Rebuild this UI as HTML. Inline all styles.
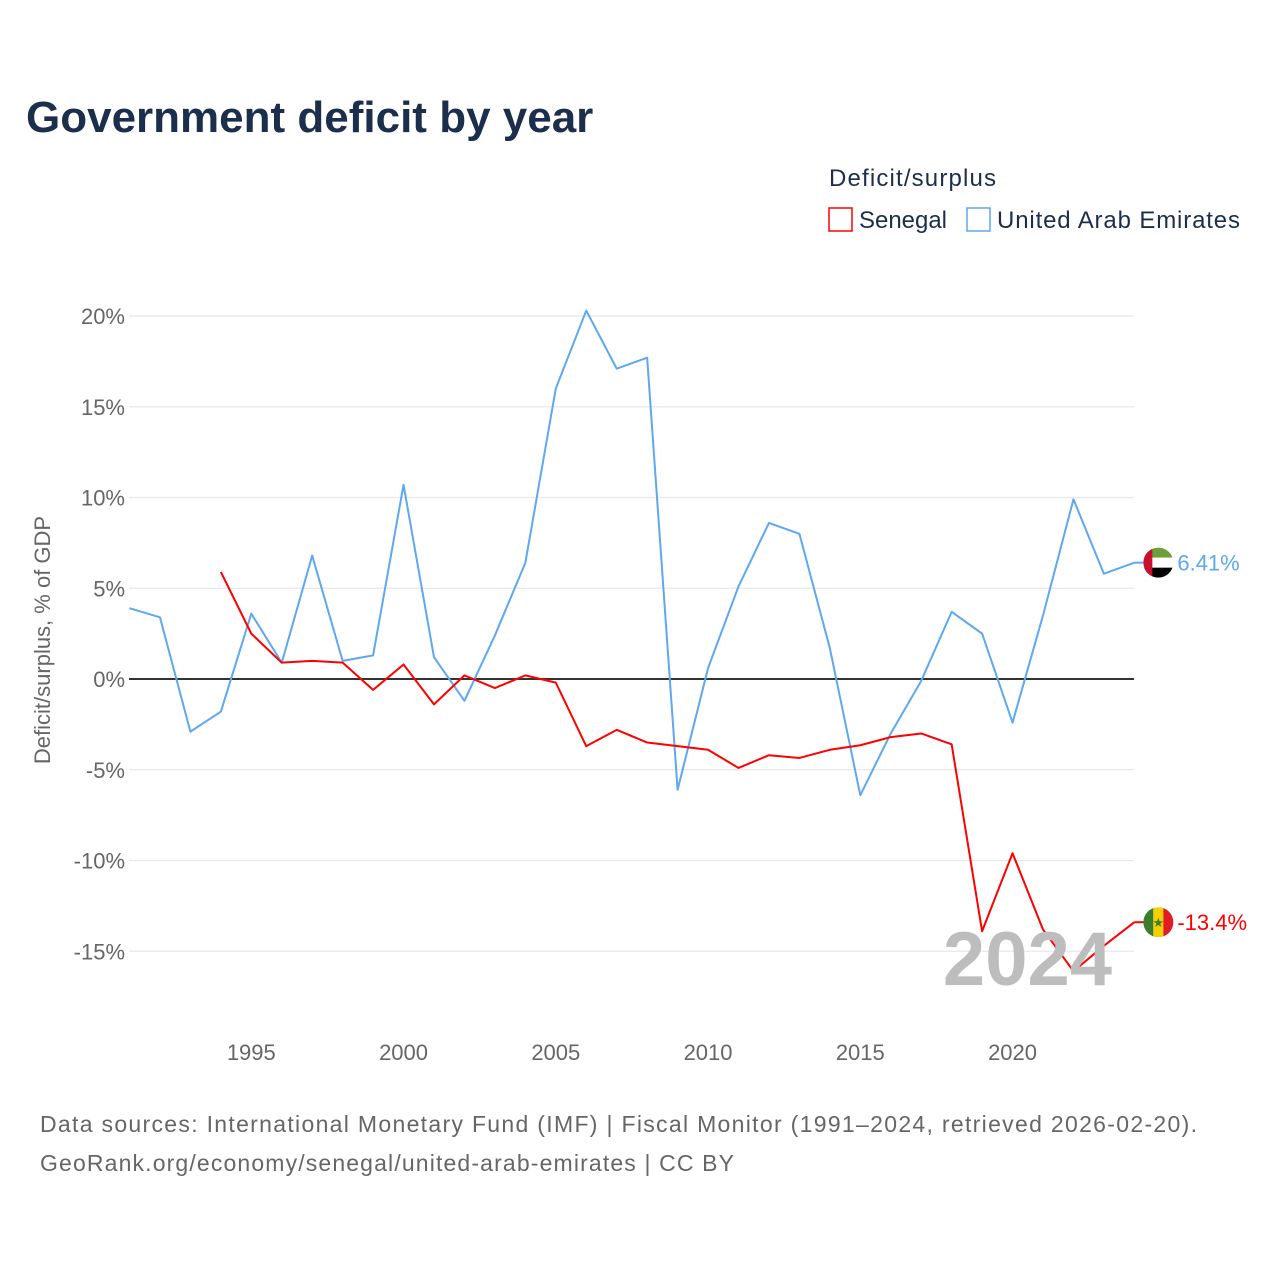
<!DOCTYPE html>
<html><head><meta charset="utf-8">
<style>
body{margin:0;background:#fff;font-family:"Liberation Sans",sans-serif;}
#wrap{position:relative;width:1280px;height:1280px;overflow:hidden;}
</style></head>
<body>
<div id="wrap">
<svg id="chart" width="1280" height="1280">
<text x="26" y="132" font-size="44" font-weight="bold" fill="#1b2e4b">Government deficit by year</text>
<text x="829" y="186" font-size="24" fill="#1b2e4b" textLength="167">Deficit/surplus</text>
<g><rect x="829" y="208" width="23" height="23" fill="none" stroke="#ff0000" stroke-width="1.5"/><text x="859" y="228" font-size="24" fill="#1b2e4b" textLength="88">Senegal</text></g>
<g><rect x="967" y="208" width="23" height="23" fill="none" stroke="#5ea8ef" stroke-width="1.5"/><text x="997" y="228" font-size="24" fill="#1b2e4b" textLength="243">United Arab Emirates</text></g>
<text transform="translate(50,640) rotate(-90)" text-anchor="middle" font-size="22" fill="#666">Deficit/surplus, % of GDP</text>
<g id="grid"></g><g id="series"></g>
<text x="1112" y="985" text-anchor="end" font-size="76" font-weight="bold" fill="#bdbdbd">2024</text>
<text x="40" y="1132" font-size="23" fill="#666" textLength="1157">Data sources: International Monetary Fund (IMF) | Fiscal Monitor (1991–2024, retrieved 2026-02-20).</text>
<text x="40" y="1171" font-size="23" fill="#666" textLength="694">GeoRank.org/economy/senegal/united-arab-emirates | CC BY</text>
</svg>
</div>
<script>
const years=[];for(let y=1991;y<=2024;y++)years.push(y);
const uae=[3.9,3.4,-2.9,-1.8,3.6,0.9,6.8,1.0,1.3,10.7,1.2,-1.2,2.4,6.4,16.0,20.3,17.1,17.7,-6.1,0.6,5.1,8.6,8.0,1.7,-6.4,-3.0,-0.1,3.7,2.5,-2.4,3.5,9.9,5.8,6.41];
const senegal=[null,null,null,5.9,2.5,0.9,1.0,0.9,-0.6,0.8,-1.4,0.2,-0.5,0.2,-0.2,-3.7,-2.8,-3.5,-3.7,-3.9,-4.9,-4.2,-4.35,-3.9,-3.65,-3.2,-3.0,-3.6,-13.9,-9.6,-13.8,-16.1,-14.7,-13.4];
const yTicks=[20,15,10,5,0,-5,-10,-15];
const xTicks=[1995,2000,2005,2010,2015,2020];
const NS='http://www.w3.org/2000/svg';
const X=y=>129.5+(y-1991)*30.45;
const Y=v=>679-v*18.15;
function mk(t,a,p){const e=document.createElementNS(NS,t);for(const k in a)e.setAttribute(k,a[k]);p.appendChild(e);return e;}
const g=document.getElementById('grid'),s=document.getElementById('series');
yTicks.forEach(v=>{
 const l=mk('line',{x1:129,x2:1134,y1:Y(v),y2:Y(v),stroke:v===0?'#333':'#e8e8e8','stroke-width':v===0?2:1.2},g);
 
 
 const t=mk('text',{x:125,y:Y(v)+8,'text-anchor':'end','font-size':22,fill:'#666'},g);
 t.textContent=v+'%';
 
 
});
xTicks.forEach(yr=>{
 const t=mk('text',{x:X(yr),y:1060,'text-anchor':'middle','font-size':22,fill:'#666'},g);
 t.textContent=yr;
 
 
});
function line(vals,color,name){
 let d='';vals.forEach((v,i)=>{if(v==null)return;d+=(d?'L':'M')+X(years[i])+','+Y(v);});
 const p=mk('path',{d:d,fill:'none',stroke:color,'stroke-width':2,'stroke-linejoin':'round'},s);
 
 
}
line(uae,'#5ea8ef','uae-line');
line(senegal,'#ff0000','senegal-line');
function endLabel(vals,color,txt,name,flag){
 const v=vals[vals.length-1],x=X(2024),y=Y(v);
 const gg=mk('g',{},s);
 
 
 mk('line',{x1:x,x2:x+10,y1:y,y2:y,stroke:color,'stroke-width':2},gg);
 const cx=x+24;
 const clip=mk('clipPath',{id:'c'+name},gg);
 mk('circle',{cx:cx,cy:y,r:15},clip);
 const fg=mk('g',{'clip-path':'url(#c'+name+')'},gg);
 if(flag==='uae'){
  mk('rect',{x:cx-15,y:y-15,width:30,height:10,fill:'#6a9f3a'},fg);
  mk('rect',{x:cx-15,y:y-5,width:30,height:10,fill:'#fff'},fg);
  mk('rect',{x:cx-15,y:y+5,width:30,height:10,fill:'#000'},fg);
  mk('rect',{x:cx-15,y:y-15,width:9,height:30,fill:'#c8102e'},fg);
 }else{
  mk('rect',{x:cx-15,y:y-15,width:10,height:30,fill:'#3a7d2c'},fg);
  mk('rect',{x:cx-5,y:y-15,width:10,height:30,fill:'#f5d000'},fg);
  mk('rect',{x:cx+5,y:y-15,width:10,height:30,fill:'#e31b23'},fg);
  const st=mk('text',{x:cx,y:y+5,'text-anchor':'middle','font-size':13,fill:'#3a7d2c'},fg);st.textContent='★';
 }
 const t=mk('text',{x:cx+19,y:y+8,'font-size':22,fill:color},gg);t.textContent=txt;
}
endLabel(uae,'#5ea8ef','6.41%','uae-end-label','uae');
endLabel(senegal,'#ff0000','-13.4%','senegal-end-label','sen');
</script>
</body></html>
